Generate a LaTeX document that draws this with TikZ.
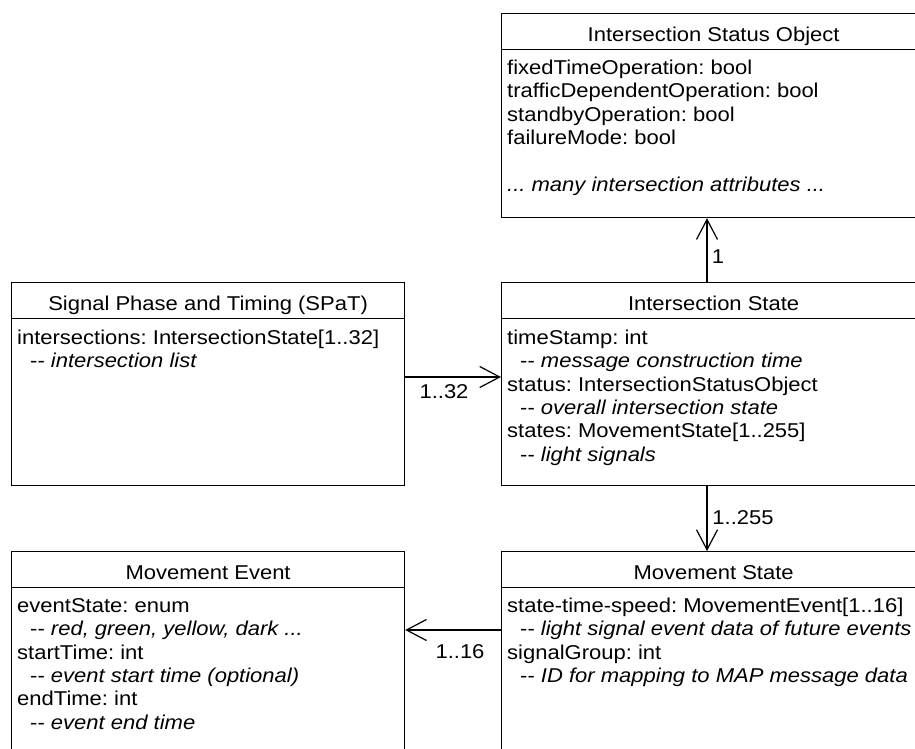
\documentclass[tikz,border=0pt]{standalone}
\usepackage{fontspec}
\usetikzlibrary{arrows.meta}
\newfontfamily\umlfont{Liberation Sans}[FakeStretch=1.1]
\newcommand\umlnote[1]{\hspace*{13pt}-{}- \textit{#1}}
\newcommand\umlstrut{\rule{0pt}{18pt}}
\frenchspacing

\tikzset{
  umlfontsize/.style={font=\umlfont\fontsize{20pt}{23.4pt}\selectfont},
  umlbox/.style={draw=black, line width=1.2pt, rectangle, inner sep=0pt,
                 anchor=north west},
  umlsep/.style={draw=black, line width=1.2pt},
  umltitle/.style={umlfontsize, anchor=base, inner sep=0pt},
  umlbody/.style={umlfontsize, align=left, anchor=north west, inner sep=0pt},
  mult/.style={umlfontsize, inner sep=0pt, anchor=center},
  assoc/.style={draw=black, line width=1.2pt,
                -{Straight Barb[length=20pt,width=21pt,line width=1.2pt]}},
}

\begin{document}
\begin{tikzpicture}[x=1pt,y=-1pt]
  \useasboundingbox (0,0) rectangle (915,749);
  \clip (0,0) rectangle (915,749);

  % class frames
  \node[umlbox, minimum width=424pt, minimum height=204pt] (iso)  at (501,13)  {};
  \node[umlbox, minimum width=393pt, minimum height=203pt] (spat) at (11,282)  {};
  \node[umlbox, minimum width=424pt, minimum height=203pt] (is)   at (501,282) {};
  \node[umlbox, minimum width=393pt, minimum height=260pt] (me)   at (11,551)  {};
  \node[umlbox, minimum width=424pt, minimum height=260pt] (ms)   at (501,551) {};

  % title separators
  \foreach \b in {iso,spat,is,me,ms}
    \draw[umlsep] ([yshift=-36.5pt]\b.north west) -- ([yshift=-36.5pt]\b.north east);

  % titles
  \node[umltitle] (isoT)  at ([yshift=-28.5pt]iso.north)  {Intersection Status Object};
  \node[umltitle] (spatT) at ([yshift=-28.5pt]spat.north) {Signal Phase and Timing (SPaT)};
  \node[umltitle] (isT)   at ([yshift=-28.5pt]is.north)   {Intersection State};
  \node[umltitle] (meT)   at ([yshift=-28.5pt]me.north)   {Movement Event};
  \node[umltitle] (msT)   at ([yshift=-28.5pt]ms.north)   {Movement State};

  % attributes
  \node[umlbody] (isoB) at (507,56) {\umlstrut fixedTimeOperation: bool\\
    trafficDependentOperation: bool\\
    standbyOperation: bool\\
    failureMode: bool\\[23.4pt]
    \textit{... many intersection attributes ...}};

  \node[umlbody] (spatB) at (17,326) {\umlstrut intersections: IntersectionState[1..32]\\
    \umlnote{intersection list}};

  \node[umlbody] (isB) at (507,326) {\umlstrut timeStamp: int\\
    \umlnote{message construction time}\\
    status: IntersectionStatusObject\\
    \umlnote{overall intersection state}\\
    states: MovementState[1..255]\\
    \umlnote{light signals}};

  \node[umlbody] (meB) at (17,594) {\umlstrut eventState: enum\\
    \umlnote{red, green, yellow, dark ...}\\
    startTime: int\\
    \umlnote{event start time (optional)}\\
    endTime: int\\
    \umlnote{event end time}};

  \node[umlbody] (msB) at (507,594) {\umlstrut state-time-speed: MovementEvent[1..16]\\
    \umlnote{light signal event data of future events}\\
    signalGroup: int\\
    \umlnote{ID for mapping to MAP message data}};

  % associations
  \coordinate (vaxis) at (707,0);
  \coordinate (row1) at (0,377);
  \coordinate (row2) at (0,630);
  \draw[assoc] (is.north -| vaxis) -- (iso.south -| vaxis);
  \draw[assoc] (is.south -| vaxis) -- (ms.north -| vaxis);
  \draw[assoc] (spat.east |- row1) -- (is.west |- row1);
  \draw[assoc] (ms.west |- row2) -- (me.east |- row2);

  % multiplicities
  \node[mult] (m1)   at (718,257) {1};
  \node[mult] (m255) at (743,518) {1..255};
  \node[mult] (m32)  at (444,392) {1..32};
  \node[mult] (m16)  at (460,652) {1..16};
\end{tikzpicture}
\end{document}
